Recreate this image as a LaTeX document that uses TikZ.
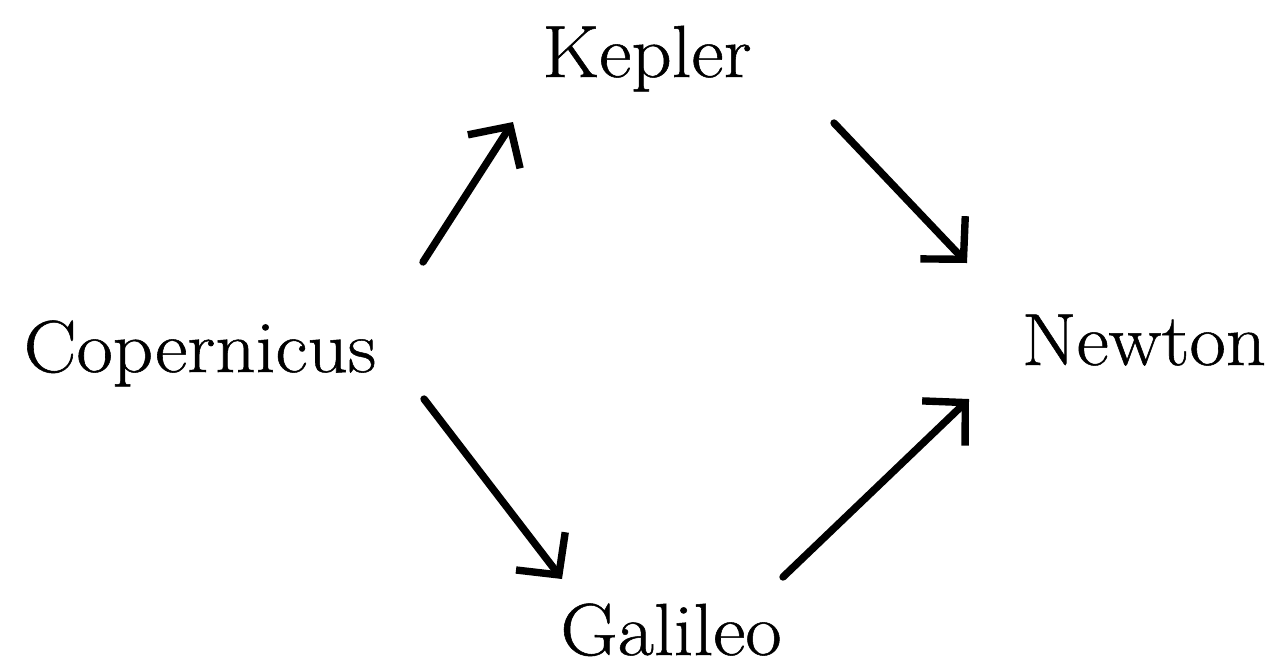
\documentclass[tikz,border=0pt]{standalone}
\usepackage{fontspec}
\newfontfamily\scifont{Latin Modern Roman}[FakeBold=0.7]
\usetikzlibrary{arrows.meta}
\begin{document}
\begin{tikzpicture}[x=0.01cm,y=-0.01cm,
  sci/.style={anchor=base,inner sep=0pt,font=\scifont\fontsize{21}{25}\selectfont},
  arr/.style={line width=2.1pt,line cap=round,-{Straight Barb[length=0.3cm,width=0.62cm]}}]
\useasboundingbox (0,0) rectangle (1279,666);
\node[sci] (kep) at (647,77) {\scalebox{1.07}[1]{Kepler}};
\node[sci] (cop) at (200,372) {\scalebox{1.07}[1]{Copernicus}};
\node[sci] (new) at (1144,365) {\scalebox{1.07}[1]{Newton}};
\node[sci] (gal) at (671,655) {\scalebox{1.07}[1]{Galileo}};
\coordinate (a1s) at (423,262);
\coordinate (a1e) at (513,122);
\coordinate (a2s) at (834,123);
\coordinate (a2e) at (967,263);
\coordinate (a3s) at (424,399);
\coordinate (a3e) at (562,579);
\coordinate (a4s) at (783,577);
\coordinate (a4e) at (969,399);
\draw[arr] (a1s) -- (a1e);
\draw[arr] (a2s) -- (a2e);
\draw[arr] (a3s) -- (a3e);
\draw[arr] (a4s) -- (a4e);
\end{tikzpicture}
\end{document}
